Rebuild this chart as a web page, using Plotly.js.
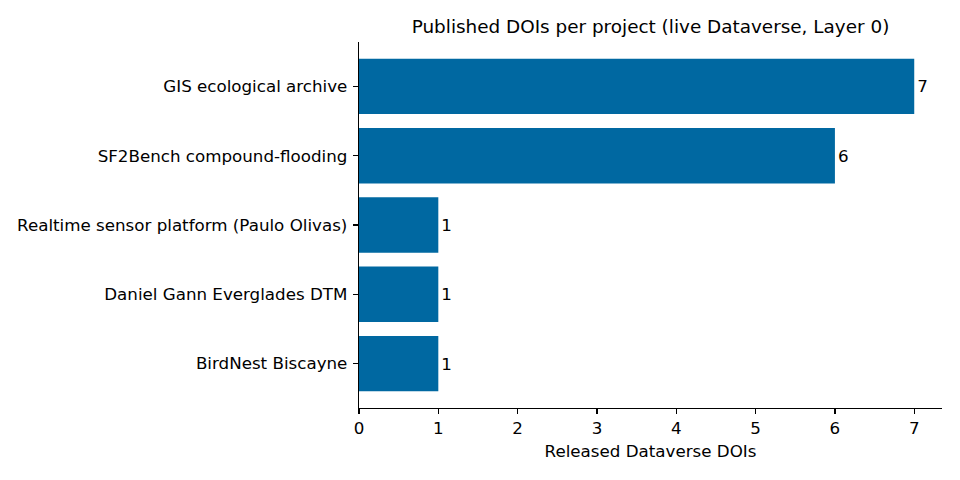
<!DOCTYPE html>
<html><head><meta charset="utf-8">
<script src="https://cdn.plot.ly/plotly-3.0.1.min.js"></script>
<style>body{margin:0;background:#fff}#c{width:960px;height:480px}</style>
</head><body><div id="c"></div>
<script>
const projects = ["BirdNest Biscayne","Daniel Gann Everglades DTM","Realtime sensor platform (Paulo Olivas)","SF2Bench compound-flooding","GIS ecological archive"];
const dois = [1,1,1,6,7];
const xTicks = [0,1,2,3,4,5,6,7];
const font = "DejaVu Sans, sans-serif";
Plotly.newPlot("c",[{
  type:"bar", orientation:"h", y:projects, x:dois,
  marker:{color:"#0068a1"}, width:0.8,
  text:dois.map(String), textposition:"outside", cliponaxis:false,
  textfont:{family:font,size:16.7,color:"#000"}, hoverinfo:"skip"
}],{
  width:960,height:480,
  margin:{l:359,r:18,t:42,b:72},
  paper_bgcolor:"#fff",plot_bgcolor:"#fff",
  font:{family:font,size:16.7,color:"#000"},
  title:{text:"Published DOIs per project (live Dataverse, Layer 0)",font:{family:font,size:18.4,color:"#000"},x:0.5,xref:"paper",y:0.945,yref:"container",yanchor:"middle"},
  xaxis:{range:[0,7.35],tickvals:xTicks,ticktext:xTicks.map(String),showgrid:false,zeroline:false,
    showline:true,linecolor:"#000",linewidth:1.3,ticks:"outside",ticklen:5,tickwidth:1.3,tickcolor:"#000",
    title:{text:"Released Dataverse DOIs",font:{family:font,size:16.7},standoff:8},tickfont:{family:font,size:16.7}},
  yaxis:{range:[-0.64,4.64],type:"category",showgrid:false,zeroline:false,showline:true,linecolor:"#000",linewidth:1.3,
    ticks:"outside",ticklen:5,tickwidth:1.3,tickcolor:"#000",ticklabelstandoff:2,tickfont:{family:font,size:16.7}},
  showlegend:false,bargap:0.2
},{staticPlot:true,displayModeBar:false});
</script></body></html>
